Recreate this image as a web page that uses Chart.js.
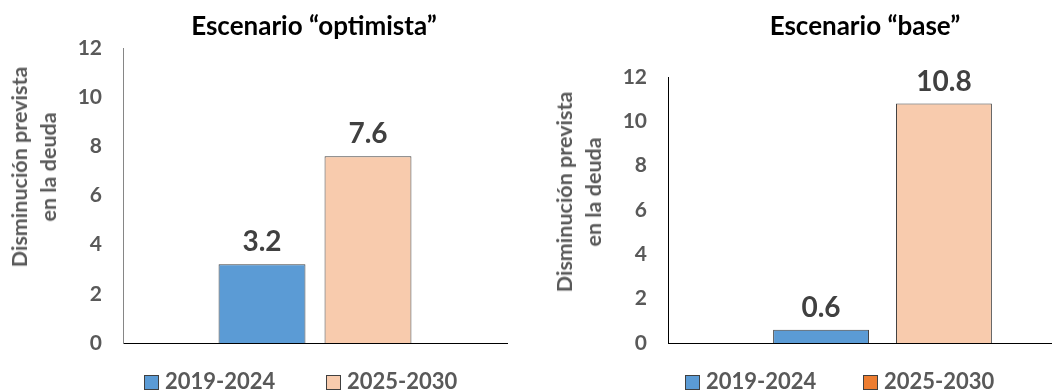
<!DOCTYPE html>
<html>
<head>
<meta charset="utf-8">
<script src="https://cdn.jsdelivr.net/npm/chart.js@4.4.1/dist/chart.umd.min.js"></script>
<style>
  body { margin: 0; background: #fff; font-family: Lato, sans-serif; }
  #page { position: relative; width: 1052px; height: 392px; overflow: hidden; }
  canvas { position: absolute; top: 0; }
  .title { position: absolute; top: 10px; transform: translateX(-50%); white-space: nowrap;
           font-weight: bold; font-size: 26px; line-height: 30px; color: #000; }
  .ytitle { position: absolute; transform: translate(-50%, -50%) rotate(-90deg); white-space: nowrap;
            text-align: center; font-weight: bold; font-size: 21.5px; line-height: 29px; color: #595959; }
  .leg { position: absolute; top: 368px; white-space: nowrap; font-weight: bold; font-size: 22px;
         line-height: 26px; color: #595959; }
  .leg span { display: inline-block; width: 13px; height: 13px; border: 1px solid #404040;
              vertical-align: -1px; margin-right: 6px; }
</style>
</head>
<body>
<div id="page">
  <canvas id="left" width="530" height="392" style="left:0"></canvas>
  <canvas id="right" width="570" height="392" style="left:530px"></canvas>

  <div class="title" style="left:314px">Escenario “optimista”</div>
  <div class="title" style="left:865px">Escenario “base”</div>

  <div class="ytitle" style="left:34px; top:167px">Disminución prevista<br>en la deuda</div>
  <div class="ytitle" style="left:579px; top:192px">Disminución prevista<br>en la deuda</div>

  <div class="leg" style="left:144px"><span style="background:#5B9BD5"></span>2019-2024</div>
  <div class="leg" style="left:326px"><span style="background:#F8CBAD"></span>2025-2030</div>
  <div class="leg" style="left:685px"><span style="background:#5B9BD5"></span>2019-2024</div>
  <div class="leg" style="left:863px"><span style="background:#ED7D31"></span>2025-2030</div>
</div>

<script>
const periods = ["2019-2024", "2025-2030"];
const optimista = [3.2, 7.6];
const base = [0.6, 10.8];
const barColors = ["#5B9BD5", "#F8CBAD"];
const yMax = 12;
const yStep = 2;

// value on top of each bar
const valueLabels = {
  id: "valueLabels",
  afterDatasetsDraw(chart) {
    const ctx = chart.ctx;
    ctx.save();
    ctx.font = "bold 28px Lato";
    ctx.fillStyle = "#404040";
    ctx.textAlign = "center";
    ctx.textBaseline = "middle";
    chart.data.datasets.forEach((ds, i) => {
      chart.getDatasetMeta(i).data.forEach((bar, j) => {
        ctx.fillText(ds.data[j].toFixed(1), bar.x, bar.y - 22);
      });
    });
    ctx.restore();
  }
};

function makeChart(id, values, opts){
  return new Chart(document.getElementById(id), {
    type: "bar",
    data: {
      labels: [""],
      datasets: periods.map((p, i) => ({
        label: p,
        data: [values[i]],
        backgroundColor: barColors[i],
        borderColor: "#404040",
        borderWidth: 1,
        categoryPercentage: opts.catPct,
        barPercentage: opts.barPct
      }))
    },
    options: {
      responsive: false,
      animation: false,
      layout: { padding: opts.padding },
      plugins: { legend: { display: false }, title: { display: false }, tooltip: { enabled: false } },
      scales: {
        x: {
          grid: { display: false, drawTicks: false },
          ticks: { display: false },
          border: { color: "#000", width: 1 },
          afterFit: s => { s.height = 0; }
        },
        y: {
          min: 0,
          max: yMax,
          grid: { display: false, drawTicks: false },
          border: { color: opts.yBorder, width: 1 },
          ticks: {
            stepSize: yStep,
            padding: opts.tickPad,
            color: "#595959",
            font: { family: "Lato", weight: "bold", size: 21 }
          },
          afterFit: s => { s.width = opts.yWidth; }
        }
      }
    },
    plugins: [valueLabels]
  });
}

makeChart("left", optimista, {
  padding: { left: 0, right: 23, top: 48, bottom: 49 },
  yWidth: 123, tickPad: 21, yBorder: "#868686",
  catPct: 0.552, barPct: 0.82
});

makeChart("right", base, {
  padding: { left: 0, right: 3, top: 77, bottom: 49 },
  yWidth: 138, tickPad: 21, yBorder: "#000",
  catPct: 0.573, barPct: 0.78
});
</script>
</body>
</html>
